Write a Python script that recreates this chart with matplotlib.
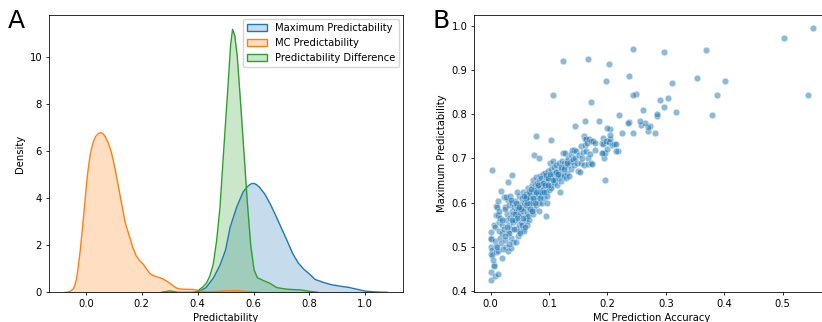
import numpy as np
import matplotlib.pyplot as plt
from matplotlib.patches import Patch
from matplotlib.colors import to_rgb

# --- panel A: density curves ---
max_x = [0.40, 0.43, 0.456, 0.48, 0.50, 0.516, 0.54, 0.563, 0.581, 0.59, 0.60, 0.61, 0.62, 0.64, 0.66,
         0.68, 0.70, 0.72, 0.74, 0.76, 0.78, 0.80, 0.82, 0.85, 0.88, 0.91, 0.94, 0.97, 1.00, 1.03,
         1.06, 1.08]
max_d = [0.0, 0.2, 0.6, 1.15, 1.8, 2.75, 3.63, 4.27, 4.52, 4.6, 4.63, 4.58, 4.48, 4.18, 3.75,
         3.25, 2.72, 2.2, 1.65, 1.25, 0.98, 0.78, 0.55, 0.42, 0.32, 0.26, 0.21, 0.13, 0.05, 0.02,
         0.005, 0.0]

mc_x = [-0.075, -0.065, -0.057, -0.05, -0.045, -0.04, -0.033, -0.027, -0.02, -0.015, -0.01, -0.005,
        0.0, 0.005, 0.01, 0.015, 0.02, 0.027, 0.035, 0.045, 0.055, 0.063, 0.07, 0.08, 0.09, 0.10,
        0.11, 0.118, 0.125, 0.133, 0.14, 0.15, 0.158, 0.168, 0.18, 0.192, 0.205, 0.217, 0.229, 0.24,
        0.253, 0.265, 0.277, 0.29, 0.301, 0.313, 0.325, 0.337, 0.35, 0.37, 0.384, 0.395, 0.408,
        0.42, 0.43, 0.46, 0.50, 0.54, 0.58, 0.62]
mc_d = [0.0, 0.01, 0.04, 0.09, 0.15, 0.28, 0.6, 1.1, 1.8, 2.4, 3.0, 3.65,
        4.3, 4.9, 5.4, 5.8, 6.1, 6.4, 6.62, 6.75, 6.78, 6.72, 6.6, 6.35, 6.0, 5.5,
        4.9, 4.4, 3.95, 3.45, 3.0, 2.6, 2.3, 1.9, 1.55, 1.35, 1.2, 1.0, 0.8, 0.72,
        0.66, 0.62, 0.56, 0.47, 0.38, 0.27, 0.18, 0.14, 0.13, 0.125, 0.12, 0.1, 0.06,
        0.03, 0.02, 0.03, 0.06, 0.07, 0.03, 0.0]

diff_x = [0.27, 0.29, 0.30, 0.31, 0.33, 0.38, 0.40, 0.408, 0.42, 0.432, 0.444, 0.456, 0.468, 0.48,
          0.492, 0.501, 0.51, 0.518, 0.525, 0.533, 0.542, 0.554, 0.566, 0.578, 0.59, 0.602, 0.614,
          0.635, 0.659, 0.683, 0.72, 0.77, 0.80, 0.83]
diff_d = [0.0, 0.04, 0.06, 0.04, 0.0, 0.0, 0.03, 0.13, 0.24, 0.4, 0.7, 1.2, 2.2, 3.6,
          5.8, 7.4, 9.0, 10.5, 11.17, 10.9, 10.0, 8.0, 5.9, 3.8, 2.0, 0.95, 0.62,
          0.5, 0.38, 0.2, 0.13, 0.1, 0.04, 0.0]

# --- panel B: MC prediction accuracy vs maximum predictability ---
mc_acc = [
    0.000, 0.001, 0.000, 0.001, 0.003, 0.000, 0.002, 0.006, 0.007, 0.008, 0.005, 0.006, 0.009, 0.010, 0.004,
    0.001, 0.001, 0.007, 0.012, 0.019, 0.002, 0.010, 0.010,
    0.011, 0.013, 0.012, 0.014, 0.015, 0.016, 0.017, 0.013, 0.018, 0.019, 0.020, 0.011, 0.016,
    0.022, 0.024, 0.023, 0.025, 0.026, 0.027, 0.028, 0.029, 0.021, 0.030, 0.026, 0.029, 0.024,
    0.031, 0.032, 0.033, 0.034, 0.035, 0.036, 0.037, 0.038, 0.033, 0.039, 0.040, 0.035, 0.031, 0.038,
    0.041, 0.042, 0.043, 0.044, 0.045, 0.046, 0.047, 0.048, 0.049, 0.050, 0.043, 0.045, 0.047, 0.049, 0.042,
    0.051, 0.052, 0.053, 0.054, 0.055, 0.056, 0.057, 0.058, 0.059, 0.060, 0.053, 0.055, 0.057, 0.059, 0.060,
    0.061, 0.062, 0.063, 0.064, 0.065, 0.066, 0.067, 0.068, 0.069, 0.070, 0.062, 0.066, 0.068, 0.064,
    0.071, 0.072, 0.073, 0.074, 0.075, 0.076, 0.077, 0.078, 0.079, 0.080, 0.073, 0.075, 0.077, 0.079,
    0.081, 0.082, 0.083, 0.084, 0.085, 0.086, 0.087, 0.088, 0.089, 0.090, 0.083, 0.086, 0.088,
    0.091, 0.092, 0.093, 0.094, 0.095, 0.096, 0.097, 0.098, 0.099, 0.100, 0.094, 0.097,
    0.101, 0.102, 0.103, 0.104, 0.105, 0.106, 0.107, 0.108, 0.109, 0.110, 0.104,
    0.111, 0.112, 0.113, 0.114, 0.115, 0.116, 0.117, 0.118, 0.119, 0.120,
    0.121, 0.122, 0.123, 0.124, 0.125, 0.126, 0.127, 0.128, 0.129, 0.130,
    0.131, 0.132, 0.133, 0.134, 0.135, 0.137, 0.138, 0.139, 0.140,
    0.141, 0.142, 0.143, 0.145, 0.146, 0.148, 0.150,
    0.152, 0.154, 0.155, 0.157, 0.158, 0.159, 0.160, 0.161, 0.162,
    0.163, 0.164, 0.165, 0.166, 0.167, 0.168, 0.170, 0.171, 0.172, 0.173, 0.175, 0.178,
    0.179, 0.192, 0.199, 0.190, 0.192, 0.193, 0.194, 0.196, 0.198, 0.200, 0.202, 0.205, 0.208,
    0.212, 0.214, 0.218, 0.215, 0.191, 0.153,
    0.077, 0.103, 0.074, 0.082, 0.030, 0.036, 0.095, 0.196, 0.144, 0.186, 0.161,
    0.243, 0.225, 0.204, 0.205, 0.199, 0.281, 0.270, 0.273, 0.269, 0.258, 0.265, 0.256, 0.236, 0.235,
    0.285, 0.284, 0.220, 0.379, 0.318, 0.261, 0.296, 0.388, 0.304, 0.290, 0.248, 0.243, 0.171, 0.106,
    0.401, 0.353, 0.310, 0.198, 0.236, 0.368, 0.297, 0.244, 0.203, 0.167, 0.123, 0.543, 0.502, 0.551,
    0.035, 0.045, 0.052, 0.058, 0.063, 0.067, 0.072, 0.076, 0.081, 0.085, 0.089, 0.093, 0.098, 0.102,
    0.107, 0.112, 0.116, 0.121, 0.126, 0.131, 0.040, 0.050, 0.055, 0.061, 0.066, 0.071, 0.078, 0.084,
    0.092, 0.099, 0.028, 0.020, 0.015, 0.025, 0.032, 0.037, 0.044, 0.048, 0.057, 0.069,
]
max_pred = [
    0.533, 0.520, 0.518, 0.499, 0.493, 0.482, 0.480, 0.548, 0.545, 0.512, 0.457, 0.455, 0.488, 0.502, 0.470,
    0.423, 0.442, 0.432, 0.438, 0.474, 0.674, 0.592, 0.571,
    0.590, 0.603, 0.572, 0.556, 0.535, 0.520, 0.508, 0.490, 0.626, 0.548, 0.530, 0.498, 0.565,
    0.613, 0.590, 0.540, 0.515, 0.500, 0.560, 0.575, 0.530, 0.495, 0.605, 0.613, 0.490, 0.585,
    0.550, 0.595, 0.565, 0.520, 0.540, 0.580, 0.600, 0.510, 0.615, 0.555, 0.590, 0.497, 0.530, 0.575,
    0.560, 0.603, 0.540, 0.580, 0.592, 0.525, 0.570, 0.615, 0.550, 0.600, 0.510, 0.623, 0.585, 0.535, 0.575,
    0.575, 0.555, 0.610, 0.590, 0.540, 0.625, 0.600, 0.565, 0.585, 0.620, 0.548, 0.580, 0.535, 0.605, 0.560,
    0.595, 0.575, 0.615, 0.632, 0.590, 0.560, 0.605, 0.620, 0.580, 0.640, 0.548, 0.612, 0.598, 0.570,
    0.600, 0.625, 0.650, 0.610, 0.585, 0.640, 0.620, 0.658, 0.605, 0.635, 0.575, 0.628, 0.595, 0.645,
    0.620, 0.648, 0.600, 0.632, 0.660, 0.615, 0.642, 0.598, 0.665, 0.630, 0.580, 0.655, 0.622,
    0.610, 0.645, 0.668, 0.625, 0.655, 0.600, 0.638, 0.672, 0.650, 0.628, 0.662, 0.615,
    0.660, 0.690, 0.640, 0.675, 0.655, 0.695, 0.665, 0.645, 0.680, 0.668, 0.632,
    0.650, 0.685, 0.662, 0.640, 0.672, 0.655, 0.690, 0.623, 0.660, 0.675,
    0.648, 0.695, 0.712, 0.665, 0.690, 0.660, 0.712, 0.680, 0.655, 0.695,
    0.668, 0.700, 0.685, 0.660, 0.692, 0.710, 0.675, 0.695, 0.720,
    0.698, 0.720, 0.685, 0.700, 0.718, 0.690, 0.672,
    0.708, 0.728, 0.690, 0.700, 0.715, 0.685, 0.752, 0.745, 0.730,
    0.745, 0.718, 0.735, 0.700, 0.688, 0.745, 0.710, 0.690, 0.740, 0.688, 0.740, 0.736,
    0.719, 0.747, 0.740, 0.735, 0.733, 0.712, 0.700, 0.713, 0.740, 0.722, 0.738, 0.745, 0.730,
    0.733, 0.732, 0.718, 0.717, 0.713, 0.670,
    0.752, 0.742, 0.708, 0.702, 0.647, 0.662, 0.570, 0.650, 0.774, 0.786, 0.786,
    0.757, 0.759, 0.753, 0.766, 0.770, 0.758, 0.763, 0.774, 0.772, 0.776, 0.781, 0.786, 0.783, 0.780,
    0.796, 0.801, 0.798, 0.799, 0.806, 0.810, 0.818, 0.845, 0.837, 0.833, 0.847, 0.845, 0.829, 0.844,
    0.876, 0.884, 0.872, 0.875, 0.888, 0.946, 0.943, 0.949, 0.914, 0.926, 0.922, 0.844, 0.974, 0.997,
    0.605, 0.565, 0.585, 0.545, 0.600, 0.585, 0.610, 0.600, 0.640, 0.625, 0.645, 0.640, 0.655, 0.665,
    0.650, 0.670, 0.665, 0.680, 0.675, 0.690, 0.540, 0.530, 0.565, 0.610, 0.625, 0.580, 0.625, 0.610,
    0.625, 0.640, 0.545, 0.560, 0.580, 0.525, 0.505, 0.560, 0.600, 0.590, 0.615, 0.630,
]

fs = 7.2
plt.rcParams.update({
    'font.size': fs, 'axes.linewidth': 0.58,
    'xtick.major.width': 0.58, 'ytick.major.width': 0.58,
    'xtick.major.size': 2.5, 'ytick.major.size': 2.5,
    'xtick.major.pad': 2.5, 'ytick.major.pad': 2.5,
    'axes.labelpad': 2.9,
})

fig = plt.figure(figsize=(8.22, 3.22), dpi=100)
W, H = 822, 322
axA = fig.add_axes([49 / W, 1 - 292.3 / H, (403 - 49) / W, (292.3 - 15) / H])
axB = fig.add_axes([474.3 / W, 1 - 292.3 / H, (828 - 474.3) / W, (292.3 - 15) / H])

colors = ['#1f77b4', '#ff7f0e', '#2ca02c']
labels = ['Maximum Predictability', 'MC Predictability', 'Predictability Difference']
curves = [(max_x, max_d), (mc_x, mc_d), (diff_x, diff_d)]
for (xs, ds), c in zip(curves, colors):
    axA.fill_between(xs, ds, color=c, alpha=0.25, lw=0)
    axA.plot(xs, ds, color=c, lw=1.0)

axA.set_xlim(-0.132, 1.135)
axA.set_ylim(0, 11.78)
axA.set_xticks(np.arange(0, 1.01, 0.2))
axA.set_yticks(np.arange(0, 11, 2))
axA.set_xlabel('Predictability')
axA.set_ylabel('Density')
handles = [Patch(facecolor=(*to_rgb(c), 0.25), edgecolor=c, lw=1.0) for c in colors]
axA.legend(handles, labels, loc='upper right', fontsize=fs, borderaxespad=0.4)

axB.scatter(mc_acc, max_pred, s=23, color=colors[0], alpha=0.5, edgecolors='white', linewidths=0.5)
axB.set_xlim(-0.028, 0.5775)
axB.set_ylim(0.396, 1.026)
axB.set_xticks(np.arange(0, 0.51, 0.1))
axB.set_yticks(np.arange(0.4, 1.01, 0.1))
axB.set_xlabel('MC Prediction Accuracy')
axB.set_ylabel('Maximum Predictability')

fig.text(8 / W, 1 - 21 / H, 'A', fontsize=18, va='center', ha='left')
fig.text(432 / W, 1 - 21 / H, 'B', fontsize=18, va='center', ha='left')

fig.savefig('out.png', dpi=100)
